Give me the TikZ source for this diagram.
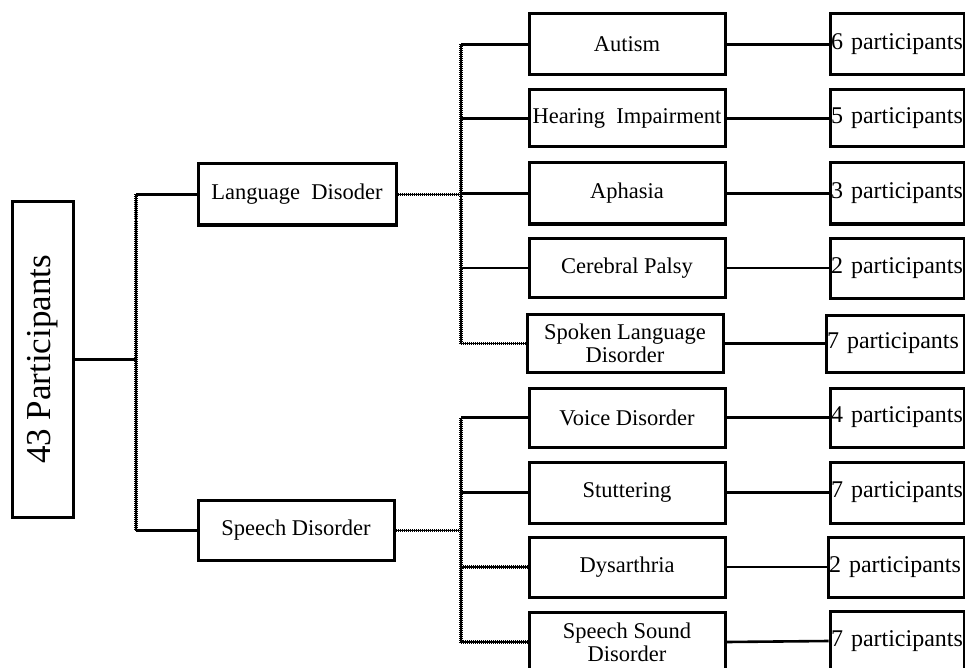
\documentclass[tikz,border=0pt]{standalone}
\usepackage{fontspec}
\setmainfont{Liberation Serif}
\begin{document}
\begin{tikzpicture}[x=1pt,y=-1pt,
  box/.style={draw, line width=3pt, inner sep=0pt, font=\fontsize{22.5}{23}\selectfont, align=center},
  midbox/.style={box, minimum width=196, minimum height=59},
  cntbox/.style={box, minimum width=134, minimum height=59, text width=132, align=left, inner xsep=1pt, font=\fontsize{24}{24}\selectfont},
  conn/.style={line width=2.6pt},
  dotline/.style={line width=3.2pt, dash pattern=on 1pt off 1pt, postaction={draw, solid, line width=1.9pt}}
]
\useasboundingbox (0,0) rectangle (965,668);

% root
\node[box, minimum width=61, minimum height=315] (root) at (42.5,359.5)
  {\rotatebox{90}{\fontsize{35}{35}\selectfont 43 Participants}};

% level 1
\node[box, minimum width=198, minimum height=61] (lang) at (297,194.5) {Language\ \ Disoder};
\node[box, minimum width=196, minimum height=60] (speech) at (296,530.5) {Speech Disorder};

% level 2
\node[midbox, minimum height=61] (aut) at (627,44.5) {Autism};
\node[midbox, minimum height=57] (hear) at (627,118.5) {Hearing\ \ Impairment};
\node[midbox, minimum height=61] (aph) at (627,193.5) {Aphasia};
\node[midbox] (cer) at (627,268) {Cerebral Palsy};
\node[midbox, minimum height=58] (spo) at (625,343.5) {Spoken Language\\Disorder};
\node[midbox] (voi) at (627,417.5) {Voice Disorder};
\node[midbox, minimum height=61] (stu) at (627,492.5) {Stuttering};
\node[midbox, minimum height=60] (dys) at (627,567) {Dysarthria};
\node[midbox, minimum height=60] (sso) at (627,642) {Speech Sound\\Disorder};

% counts
\node[cntbox, minimum height=61] (c1) at (897,44.5) {6 participants};
\node[cntbox, minimum height=57] (c2) at (897,118.5) {5 participants};
\node[cntbox, minimum height=61] (c3) at (897,193.5) {3 participants};
\node[cntbox, minimum height=60] (c4) at (897,268) {2 participants};
\node[cntbox, minimum width=138, text width=136, minimum height=57] (c5) at (895,343.5) {7 participants};
\node[cntbox] (c6) at (897,417.5) {4 participants};
\node[cntbox, minimum height=61] (c7) at (897,492.5) {7 participants};
\node[cntbox, minimum width=136, text width=134, minimum height=60] (c8) at (896,567) {2 participants};
\node[cntbox, minimum height=60] (c9) at (897,641) {7 participants};

% junction x positions
\coordinate (ja) at (136,0);
\coordinate (jl) at (461,0);

% root to level 1
\draw[conn] (root.east) -- (root.east -| ja);
\draw[dotline] (ja |- lang.west) -- (ja |- speech.west);
\draw[conn] (ja |- lang.west) -- (lang.west);
\draw[conn] (ja |- speech.west) -- (speech.west);

% language branch
\draw[dotline] (lang.east) -- (jl |- lang.east);
\draw[dotline] (jl |- aut.west) -- (jl |- spo.west);
\draw[conn] (jl |- aut.west) -- (aut.west);
\draw[conn] (jl |- hear.west) -- (hear.west);
\draw[conn] (jl |- aph.west) -- (aph.west);
\draw[conn] (jl |- cer.west) -- (cer.west);
\draw[dotline] (jl |- spo.west) -- (spo.west);

% speech branch
\draw[dotline] (speech.east) -- (jl |- speech.east);
\draw[dotline] (jl |- voi.west) -- (jl |- sso.west);
\draw[conn] (jl |- voi.west) -- (voi.west);
\draw[conn] (jl |- stu.west) -- (stu.west);
\draw[dotline] (jl |- dys.west) -- (dys.west);
\draw[dotline] (jl |- sso.west) -- (sso.west);

% to counts
\draw[conn] (aut.east) -- (c1.west);
\draw[conn] (hear.east) -- (c2.west);
\draw[conn] (aph.east) -- (c3.west);
\draw[conn] (cer.east) -- (c4.west);
\draw[conn] (spo.east) -- (c5.west);
\draw[conn] (voi.east) -- (c6.west);
\draw[conn] (stu.east) -- (c7.west);
\draw[conn] (dys.east) -- (c8.west);
\draw[conn] (sso.east) -- (c9.west);
\end{tikzpicture}
\end{document}
